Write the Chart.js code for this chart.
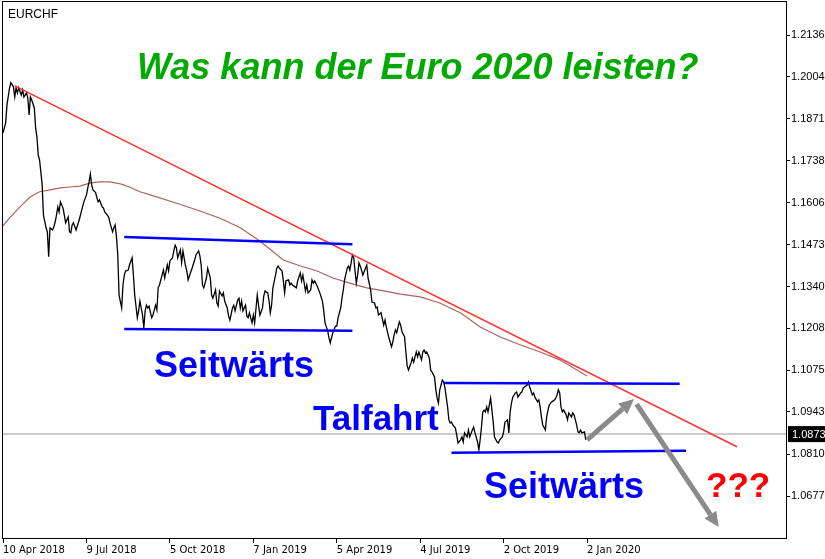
<!DOCTYPE html>
<html lang="de">
<head>
<meta charset="UTF-8">
<title>EURCHF</title>
<style>
    html, body { margin: 0; padding: 0; background: #fff; }
    canvas { display: block; }
</style>
</head>
<body>

<canvas id="eurchfChart" width="825" height="559"></canvas>

<script src="https://cdn.jsdelivr.net/npm/chart.js"></script>
<script>
// x = trading day counted from 10 Apr 2018
const xTickDays = [0, 64, 128, 192, 256, 320, 384, 448];
const xTickLabels = ['10 Apr 2018', '9 Jul 2018', '5 Oct 2018', '7 Jan 2019', '5 Apr 2019', '4 Jul 2019', '2 Oct 2019', '2 Jan 2020'];
const yTicks = [1.2136, 1.2004, 1.1871, 1.1738, 1.1606, 1.1473, 1.1340, 1.1208, 1.1075, 1.0943, 1.0810, 1.0677];
const currentPrice = 1.0873;

// EURCHF close
const priceDays = [
    0, 2, 3, 5, 6, 8, 9, 10, 11, 12, 14, 15, 16, 18, 19, 20, 21, 22, 24, 25, 26, 27, 28, 29, 30, 31, 33, 34, 35, 36,
    38, 39, 40, 41, 42, 43, 44, 46, 47, 48, 50, 51, 52, 53, 54, 56, 58, 59, 60, 61, 62, 64, 65, 66, 67, 68, 69, 71, 72, 73,
    74, 76, 77, 78, 80, 81, 82, 84, 85, 86, 87, 88, 89, 91, 92, 93, 94, 96, 97, 99, 100, 101, 103, 104, 105, 107, 108, 109, 110, 111,
    112, 114, 115, 117, 118, 119, 120, 122, 123, 124, 126, 127, 128, 130, 131, 132, 133, 134, 136, 137, 138, 140, 141, 142, 143, 145, 147, 148, 150, 151,
    152, 153, 154, 156, 157, 159, 160, 161, 163, 164, 165, 166, 168, 169, 170, 172, 173, 174, 176, 177, 178, 180, 181, 182, 183, 184, 186, 187, 188, 189,
    191, 192, 193, 195, 196, 197, 199, 200, 201, 203, 204, 205, 206, 207, 209, 210, 211, 212, 214, 215, 216, 217, 219, 220, 221, 222, 223, 225, 226, 228,
    229, 230, 232, 233, 234, 236, 237, 238, 239, 241, 243, 245, 246, 247, 249, 250, 251, 252, 253, 255, 256, 257, 259, 260, 261, 262, 264, 265, 266, 267,
    268, 269, 270, 271, 272, 273, 274, 275, 276, 278, 279, 280, 282, 283, 285, 286, 287, 288, 290, 292, 293, 294, 295, 296, 298, 299, 300, 301, 302, 304,
    305, 306, 308, 309, 310, 311, 313, 314, 315, 317, 318, 319, 321, 322, 323, 324, 325, 327, 328, 329, 331, 332, 333, 334, 335, 337, 338, 339, 341, 342,
    343, 344, 345, 347, 348, 349, 351, 352, 353, 354, 356, 357, 358, 360, 361, 362, 364, 365, 366, 367, 368, 369, 370, 371, 372, 374, 376, 377, 379, 380,
    381, 383, 384, 385, 387, 388, 389, 390, 391, 393, 394, 395, 397, 398, 399, 400, 402, 403, 404, 406, 407, 408, 410, 411, 412, 413, 414, 416, 417, 418,
    419, 420, 421, 423, 424, 425, 426, 427, 428, 429, 430, 432, 433, 434, 436, 437, 438, 440, 441, 442, 443, 444, 446, 447
];
const priceValues = [
    1.1826, 1.1858, 1.1914, 1.1969, 1.1985, 1.1972, 1.1940, 1.1969, 1.1953, 1.1969, 1.1946, 1.1962, 1.1940, 1.1953, 1.1937, 1.1883, 1.1940, 1.1930, 1.1905, 1.1842, 1.1813, 1.1756, 1.1741, 1.1703, 1.1661, 1.1566, 1.1526, 1.1513, 1.1434, 1.1526,
    1.1519, 1.1529, 1.1545, 1.1566, 1.1592, 1.1576, 1.1608, 1.1589, 1.1566, 1.1542, 1.1560, 1.1513, 1.1510, 1.1535, 1.1542, 1.1519, 1.1545, 1.1560, 1.1576, 1.1592, 1.1608, 1.1630, 1.1652, 1.1671, 1.1696, 1.1661, 1.1646, 1.1637, 1.1621, 1.1608,
    1.1614, 1.1592, 1.1589, 1.1576, 1.1566, 1.1560, 1.1542, 1.1513, 1.1526, 1.1535, 1.1497, 1.1440, 1.1313, 1.1272, 1.1345, 1.1376, 1.1389, 1.1392, 1.1408, 1.1431, 1.1376, 1.1313, 1.1241, 1.1263, 1.1294, 1.1250, 1.1209, 1.1263, 1.1281, 1.1272,
    1.1278, 1.1241, 1.1250, 1.1281, 1.1266, 1.1336, 1.1345, 1.1376, 1.1392, 1.1367, 1.1408, 1.1389, 1.1421, 1.1431, 1.1453, 1.1471, 1.1462, 1.1431, 1.1456, 1.1415, 1.1453, 1.1405, 1.1389, 1.1361, 1.1374, 1.1398, 1.1424, 1.1440, 1.1453, 1.1437,
    1.1408, 1.1345, 1.1336, 1.1367, 1.1398, 1.1367, 1.1313, 1.1303, 1.1329, 1.1288, 1.1278, 1.1326, 1.1310, 1.1320, 1.1294, 1.1272, 1.1247, 1.1234, 1.1272, 1.1281, 1.1263, 1.1297, 1.1303, 1.1272, 1.1294, 1.1263, 1.1281, 1.1247, 1.1241, 1.1257,
    1.1225, 1.1250, 1.1225, 1.1313, 1.1281, 1.1250, 1.1272, 1.1310, 1.1326, 1.1320, 1.1297, 1.1257, 1.1281, 1.1336, 1.1376, 1.1398, 1.1405, 1.1398, 1.1389, 1.1358, 1.1320, 1.1358, 1.1361, 1.1345, 1.1351, 1.1345, 1.1342, 1.1336, 1.1358, 1.1383,
    1.1358, 1.1376, 1.1326, 1.1345, 1.1320, 1.1329, 1.1361, 1.1351, 1.1358, 1.1342, 1.1320, 1.1294, 1.1263, 1.1225, 1.1200, 1.1178, 1.1162, 1.1178, 1.1194, 1.1215, 1.1215, 1.1241, 1.1272, 1.1303, 1.1329, 1.1361, 1.1398, 1.1405, 1.1392, 1.1415,
    1.1440, 1.1431, 1.1389, 1.1351, 1.1376, 1.1415, 1.1405, 1.1392, 1.1376, 1.1398, 1.1408, 1.1367, 1.1329, 1.1291, 1.1288, 1.1272, 1.1275, 1.1250, 1.1257, 1.1218, 1.1234, 1.1212, 1.1194, 1.1178, 1.1149, 1.1165, 1.1187, 1.1203, 1.1194, 1.1228,
    1.1218, 1.1197, 1.1181, 1.1133, 1.1089, 1.1076, 1.1099, 1.1114, 1.1101, 1.1133, 1.1117, 1.1133, 1.1108, 1.1133, 1.1139, 1.1130, 1.1133, 1.1114, 1.1076, 1.1070, 1.1054, 1.1013, 1.0987, 1.0971, 1.1013, 1.1044, 1.1038, 1.1019, 1.0959, 1.0918,
    1.0908, 1.0911, 1.0902, 1.0892, 1.0870, 1.0845, 1.0855, 1.0864, 1.0848, 1.0877, 1.0864, 1.0886, 1.0864, 1.0886, 1.0895, 1.0877, 1.0848, 1.0823, 1.0855, 1.0895, 1.0943, 1.0949, 1.0943, 1.0959, 1.0943, 1.0987, 1.0911, 1.0864, 1.0848, 1.0845,
    1.0855, 1.0864, 1.0880, 1.0911, 1.0918, 1.0877, 1.0943, 1.0971, 1.0990, 1.1003, 1.1006, 1.0990, 1.1003, 1.1006, 1.1019, 1.1022, 1.1028, 1.1038, 1.1022, 1.0997, 1.1003, 1.0990, 1.0975, 1.0981, 1.0959, 1.0927, 1.0902, 1.0886, 1.0927, 1.0949,
    1.0965, 1.0971, 1.0975, 1.0981, 1.0987, 1.0997, 1.1013, 1.1003, 1.0959, 1.0943, 1.0949, 1.0934, 1.0918, 1.0940, 1.0927, 1.0940, 1.0934, 1.0902, 1.0880, 1.0877, 1.0886, 1.0877, 1.0880, 1.0855
];

// moving average
const maDays = [0, 5, 13, 21, 28, 36, 44, 51, 59, 67, 74, 82, 90, 97, 105, 113, 132, 151, 166, 182, 197, 215, 228, 241, 253, 266, 279, 292, 305, 320, 335, 351, 366, 381, 397, 412, 427, 448];
const maValues = [1.1532, 1.1557, 1.1592, 1.1624, 1.1640, 1.1646, 1.1652, 1.1655, 1.1658, 1.1668, 1.1671, 1.1671, 1.1665, 1.1655, 1.1640, 1.1630, 1.1605, 1.1579, 1.1557, 1.1526, 1.1484, 1.1424, 1.1405, 1.1389, 1.1367, 1.1351, 1.1336, 1.1326, 1.1316, 1.1307, 1.1288, 1.1256, 1.1212, 1.1181, 1.1155, 1.1133, 1.1108, 1.1057];

// drawn lines
const trendDays = [9, 563];
const trendValues = [1.1975, 1.0833];
const channelDays = [[93, 268], [93, 268], [338, 519], [344, 524]];
const channelValues = [[1.1497, 1.1474], [1.1206, 1.1200], [1.1035, 1.1032], [1.0814, 1.0820]];
const arrowDays = [[448, 484], [486, 549]];
const arrowValues = [[1.0855, 1.0984], [1.0968, 1.0579]];

const toPoints = (days, vals) => days.map((d, i) => ({ x: d, y: vals[i] }));

const notes = [
    { text: 'Was kann der Euro 2020 leisten?', x: 137, y: 79, color: '#00aa00', font: 'italic bold 36px "Liberation Sans"' },
    { text: 'Seitwärts', x: 154, y: 377, color: '#0000ff', font: 'bold 36px "Liberation Sans"' },
    { text: 'Talfahrt', x: 313, y: 430, color: '#0000ff', font: 'bold 35px "Liberation Sans"' },
    { text: 'Seitwärts', x: 484, y: 498, color: '#0000ff', font: 'bold 36px "Liberation Sans"' },
    { text: '???', x: 706, y: 497, color: '#ff0000', font: 'bold 35px "Liberation Sans"' }
];

const overlay = {
    id: 'overlay',
    beforeDatasetsDraw(chart) {
        const { ctx, chartArea: a, scales: { y } } = chart;
        const py = y.getPixelForValue(currentPrice);
        ctx.save();
        ctx.strokeStyle = '#cccccc';
        ctx.lineWidth = 2;
        ctx.beginPath();
        ctx.moveTo(a.left, py);
        ctx.lineTo(a.right, py);
        ctx.stroke();
        ctx.restore();
    },
    afterDatasetsDraw(chart) {
        const { ctx, scales: { x, y } } = chart;
        ctx.save();
        ctx.strokeStyle = '#8a8a8a';
        ctx.fillStyle = '#8a8a8a';
        arrowDays.forEach((d, i) => {
            const x0 = x.getPixelForValue(d[0]), y0 = y.getPixelForValue(arrowValues[i][0]);
            const x1 = x.getPixelForValue(d[1]), y1 = y.getPixelForValue(arrowValues[i][1]);
            const ang = Math.atan2(y1 - y0, x1 - x0);
            const head = 15, half = 7;
            const bx = x1 - head * Math.cos(ang), by = y1 - head * Math.sin(ang);
            ctx.lineWidth = 5;
            ctx.beginPath();
            ctx.moveTo(x0, y0);
            ctx.lineTo(bx, by);
            ctx.stroke();
            ctx.beginPath();
            ctx.moveTo(x1, y1);
            ctx.lineTo(bx + half * Math.sin(ang), by - half * Math.cos(ang));
            ctx.lineTo(bx - half * Math.sin(ang), by + half * Math.cos(ang));
            ctx.closePath();
            ctx.fill();
        });
        notes.forEach(n => {
            ctx.font = n.font;
            ctx.fillStyle = n.color;
            ctx.textAlign = 'left';
            ctx.textBaseline = 'alphabetic';
            ctx.fillText(n.text, n.x, n.y);
        });
        ctx.restore();
    },
    afterDraw(chart) {
        const { ctx, chartArea: a, scales: { y } } = chart;
        ctx.save();
        ctx.strokeStyle = '#000';
        ctx.lineWidth = 1;
        ctx.strokeRect(a.left + 0.5, a.top + 0.5, a.right - a.left, a.bottom - a.top);

        ctx.fillStyle = '#000';
        ctx.font = '12px "Liberation Sans"';
        ctx.textBaseline = 'alphabetic';
        ctx.fillText('EURCHF', 8, 18);

        const py = y.getPixelForValue(currentPrice);
        ctx.fillRect(a.right + 2, py - 8, 40, 16);
        ctx.fillStyle = '#fff';
        ctx.font = '11px "Liberation Sans"';
        ctx.textBaseline = 'middle';
        ctx.fillText(currentPrice.toFixed(4), a.right + 6, py + 0.5);
        ctx.restore();
    }
};

const lineSet = (data, color, width) => ({
    data, borderColor: color, borderWidth: width,
    pointRadius: 0, tension: 0, fill: false
});

new Chart(document.getElementById('eurchfChart'), {
    type: 'line',
    data: {
        datasets: [
            ...channelDays.map((d, i) => lineSet(toPoints(d, channelValues[i]), '#0000ff', 2.5)),
            lineSet(toPoints(trendDays, trendValues), '#ff3333', 1.5),
            lineSet(toPoints(priceDays, priceValues), '#000000', 1.3),
            lineSet(toPoints(maDays, maValues), '#b06060', 1.2)
        ]
    },
    options: {
        responsive: false,
        devicePixelRatio: 1,
        animation: false,
        layout: { padding: { left: 2, top: 1, right: 0, bottom: 0 } },
        plugins: { legend: { display: false }, tooltip: { enabled: false } },
        scales: {
            x: {
                type: 'linear',
                min: -0.8,
                max: 600.6,
                afterBuildTicks: s => { s.ticks = xTickDays.map(v => ({ value: v })); },
                afterFit: s => { s.height = 21; s.paddingLeft = 0; s.paddingRight = 0; },
                grid: { drawOnChartArea: false, drawTicks: true, tickLength: 5, color: '#000' },
                border: { display: false },
                ticks: {
                    autoSkip: false, maxRotation: 0, align: 'start', padding: 1,
                    color: '#000', font: { family: 'DejaVu Sans', size: 10 },
                    callback: (v, i) => xTickLabels[i]
                }
            },
            y: {
                type: 'linear',
                position: 'right',
                min: 1.05442,
                max: 1.22436,
                afterBuildTicks: s => { s.ticks = yTicks.map(v => ({ value: v })); },
                afterFit: s => { s.width = 39; s.paddingTop = 0; s.paddingBottom = 0; },
                grid: { drawOnChartArea: false, drawTicks: true, tickLength: 4, color: '#000' },
                border: { display: false },
                ticks: {
                    padding: 1, color: '#000', font: { family: 'Liberation Sans', size: 11 },
                    callback: v => v.toFixed(4)
                }
            }
        }
    },
    plugins: [overlay]
});
</script>

</body>
</html>
